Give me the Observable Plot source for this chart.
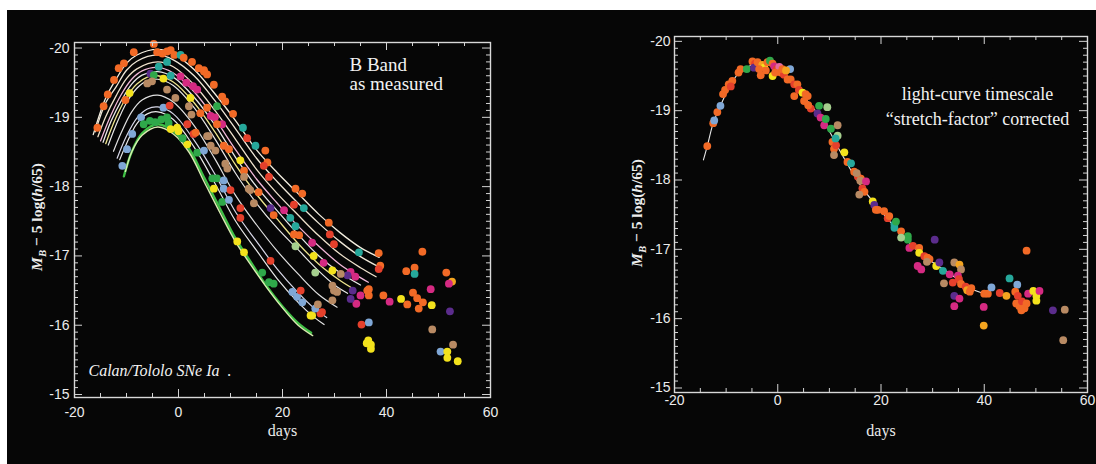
<!DOCTYPE html>
<html>
<head>
<meta charset="utf-8">
<script src="https://cdn.jsdelivr.net/npm/d3@7"></script>
<script src="https://cdn.jsdelivr.net/npm/@observablehq/plot@0.6"></script>
<style>
html,body{margin:0;padding:0;background:#fff;width:1096px;height:464px;overflow:hidden;position:relative}
#bg{position:absolute;left:7px;top:10px;width:1089px;height:454px;background:#060606}
.panel{position:absolute;top:0}
#left{left:0}
#right{left:555px}
.ylab{position:absolute;font-family:"Liberation Serif","Times New Roman",serif;font-weight:bold;font-size:15.5px;color:#ececec;white-space:nowrap;transform:translate(-50%,-50%) rotate(-90deg)}
.ylab sub{font-size:0.7em;vertical-align:-0.3em}
</style>
</head>
<body>
<div id="bg"></div>
<div id="left" class="panel"></div>
<div id="right" class="panel"></div>
<div class="ylab" style="left:38px;top:217px"><i>M<sub>B</sub></i> &minus; 5 log(<i>h</i>/65)</div>
<div class="ylab" style="left:638px;top:213px"><i>M<sub>B</sub></i> &minus; 5 log(<i>h</i>/65)</div>
<script>
// ---------- tick labels ----------
const xTickLabels = [-20, 0, 20, 40, 60];
const yTickLabels = [-20, -19, -18, -17, -16, -15];

// ---------- left panel: fitted light curves (day, magnitude) ----------
const curveA = [[-16.4,-18.75],[-14,-19.28],[-12,-19.55],[-10,-19.78],[-8,-19.9],[-4,-19.98],[-1,-19.92],[3,-19.69],[7,-19.34],[11,-18.95],[15,-18.53],[19,-18.2],[23,-17.9],[27,-17.6],[31,-17.34],[35,-17.12],[38.6,-16.98]];
const curveB = [[-16,-18.79],[-14,-19.21],[-12,-19.44],[-10,-19.68],[-8,-19.81],[-4,-19.9],[-1,-19.83],[3,-19.6],[7,-19.24],[11,-18.83],[15,-18.41],[19,-18.07],[23,-17.76],[27,-17.47],[31,-17.21],[35,-16.99],[38.6,-16.84]];
const curveC = [[-15.5,-18.72],[-14,-19.01],[-12,-19.31],[-10,-19.56],[-8,-19.7],[-4,-19.8],[-1,-19.73],[3,-19.47],[7,-19.1],[11,-18.68],[15,-18.25],[19,-17.9],[23,-17.59],[27,-17.29],[31,-17.03],[35,-16.83],[38,-16.7]];
const curveD = [[-15,-18.66],[-13,-19.03],[-11,-19.33],[-9,-19.55],[-7,-19.67],[-4,-19.72],[-1,-19.64],[3,-19.37],[7,-18.98],[11,-18.53],[15,-18.11],[19,-17.76],[23,-17.43],[27,-17.14],[31,-16.88],[34,-16.73],[36.5,-16.62]];
const curveE = [[-14.5,-18.64],[-13,-18.94],[-11,-19.24],[-9,-19.48],[-7,-19.61],[-4,-19.66],[-1,-19.58],[3,-19.29],[7,-18.89],[11,-18.42],[15,-18.0],[19,-17.65],[23,-17.31],[27,-17.0],[31,-16.76],[35,-16.58]];
const curveF = [[-14,-18.62],[-12,-19.0],[-10,-19.29],[-8,-19.48],[-6,-19.58],[-4,-19.6],[-1,-19.51],[3,-19.21],[7,-18.79],[11,-18.31],[15,-17.89],[19,-17.53],[23,-17.18],[27,-16.88],[31,-16.65],[34,-16.51]];
const curveG = [[-13.5,-18.6],[-12,-18.89],[-10,-19.21],[-8,-19.42],[-6,-19.53],[-4,-19.55],[-1,-19.46],[3,-19.14],[7,-18.69],[11,-18.19],[15,-17.76],[19,-17.4],[23,-17.09],[27,-16.78],[30,-16.58],[32.5,-16.46]];
const curveH = [[-12.5,-18.51],[-11,-18.78],[-9,-19.08],[-7,-19.25],[-4,-19.32],[-1,-19.22],[3,-18.88],[7,-18.4],[11,-17.87],[15,-17.45],[19,-17.07],[23,-16.74],[27,-16.44],[30.5,-16.26]];
const curveI = [[-11.8,-18.41],[-10,-18.73],[-8,-18.99],[-6,-19.12],[-4,-19.15],[-1,-19.05],[3,-18.67],[7,-18.18],[11,-17.63],[15,-17.21],[19,-16.81],[23,-16.47],[26,-16.25],[28.5,-16.11]];
const curveJ = [[-11.3,-18.39],[-10,-18.62],[-8,-18.91],[-6,-19.05],[-4,-19.08],[-1,-18.97],[3,-18.57],[7,-18.05],[11,-17.5],[15,-17.08],[19,-16.67],[23,-16.33],[26,-16.12],[28,-16.01]];
const curveK = [[-10.5,-18.15],[-9,-18.5],[-7,-18.77],[-4,-18.9],[-1,-18.8],[2,-18.55],[5,-18.12],[8,-17.68],[11,-17.25],[14,-16.9],[17,-16.56],[20,-16.27],[23,-16.03],[25.5,-15.89]];
const curveL = [[-10.2,-18.22],[-9,-18.5],[-7,-18.74],[-4,-18.86],[-1,-18.76],[2,-18.5],[5,-18.06],[8,-17.62],[11,-17.2],[14,-16.86],[17,-16.54],[20,-16.25],[23,-16.0],[25.8,-15.85]];

// ---------- left panel: measured points ----------
const leftPointDay = [-15.6,-14.4,-13.6,-12.4,-11.5,-10.5,-8.6,-10.2,-9.4,-8.9,-9.9,-10.8,-7.2,-2.9,
 -4.75,-4.1,-3.1,-2.2,-1.5,-0.8,0.4,1.0,2.6,3.9,4.9,5.5,-5.4,-4.75,-3.8,-2.2,-2.9,-1.5,-6,-5.1,-2.2,-0.6,2,2.5,-1.7,
 -6.7,-5.5,-4.5,-3.3,-2.2,-1.9,-1.5,0,-0.25,1.7,0.8,2.9,3.6,
 0.4,1.5,2.8,3.6,2.3,4.9,6.8,8.4,7.4,5.5,4.2,6.2,7.0,8.4,7.4,1.7,3.3,5.5,6.2,8.7,9.7,16.7,17.1,16.4,17.4,14.8,11.9,12.6,9.4,9,7.1,5.8,4.9,
 7.4,6.8,6.5,8.4,8.7,8.7,10,12.6,13.8,13.5,15.4,14.5,9.7,11.9,11.9,11.3,12.6,17.7,16.1,17.4,18.3,17.7,18.3,20.3,22.2,22.5,23.8,24.1,21.5,22.5,22.2,23.2,22.5,
 25.7,26.0,26.3,27.9,28.9,29.1,29.9,34.7,38.5,38.8,38.5,36.3,33.1,32.5,34.0,29.9,29.6,30.5,29.6,31.2,29.6,21.9,22.8,23.8,23.5,25.7,25.4,27.6,27.3,26.3,26.8,
 9.0,10.5,12.4,13.2,
 46.9,43.8,45.4,45.4,51.5,52.6,52.0,48.5,45.1,45.9,44.0,46.2,47.0,42.8,48.7,52.2,39.4,40.6,36.6,36.6,35.0,34.2,33.1,33.5,35.2,36.6,36.5,37.0,37.0,36.2,48.8,50.4,51.7,51.7,52.8,53.7];
const leftPointMag = [-18.85,-19.16,-19.33,-19.54,-19.71,-19.78,-19.94,-19.25,-19.35,-18.76,-18.54,-18.3,-19.0,-19.14,
 -20.06,-19.94,-19.92,-19.95,-19.97,-19.9,-19.9,-19.86,-19.8,-19.71,-19.68,-19.62,-19.63,-19.61,-19.73,-19.8,-19.56,-19.6,-19.49,-19.52,-19.4,-19.28,-19.16,-19.04,-19.17,
 -18.9,-18.95,-18.93,-18.97,-19.0,-18.92,-18.83,-18.8,-18.85,-18.61,-18.7,-18.76,-18.49,
 -19.59,-19.5,-19.45,-19.4,-19.28,-19.66,-19.47,-19.3,-19.16,-19.14,-19.06,-19.02,-19.0,-18.9,-18.9,-18.9,-18.78,-18.73,-18.59,-18.59,-18.54,-18.52,-18.35,-18.3,-18.14,-18.59,-18.38,-18.23,-18.26,-18.33,-18.52,-18.73,-18.52,
 -18.12,-17.97,-18.12,-17.78,-18.09,-17.97,-17.95,-18.14,-17.95,-17.97,-17.92,-17.76,-17.81,-17.69,-17.55,-17.21,-17.05,-16.93,-16.76,-16.62,-16.6,-17.69,-17.59,-17.66,-17.74,-17.97,-17.9,-17.69,-17.55,-17.43,-17.31,-17.3,-17.14,
 -17.19,-17.0,-16.76,-16.9,-17.48,-17.31,-17.17,-17.05,-17.04,-16.86,-16.81,-16.5,-16.77,-16.72,-16.7,-16.5,-16.57,-16.48,-16.36,-16.74,-16.79,-16.48,-16.41,-16.33,-16.5,-16.14,-16.14,-16.19,-16.17,-16.24,-16.3,
 -19.23,-19.05,-18.85,-18.7,
 -17.06,-16.78,-16.83,-16.74,-16.76,-16.63,-16.6,-16.52,-16.47,-16.39,-16.3,-16.24,-16.33,-16.38,-16.29,-16.2,-16.43,-16.34,-16.52,-16.43,-16.43,-16.31,-16.38,-16.5,-16.01,-16.04,-15.78,-15.72,-15.66,-15.74,-15.94,-15.62,-15.62,-15.53,-15.72,-15.48];
const leftPointColor = ["O","O","O","O","O","O","O","O","Y","B","B","B","B","B",
 "O","O","O","O","O","O","T","O","O","O","O","O","P","G","T","T","Y","T","N","N","N","N","N","N","R",
 "G","G","G","G","G","G","Y","Y","Y","Y","G","R","G",
 "M","M","M","M","Y","O","O","O","G","O","O","M","M","M","O","R","O","N","N","O","O","O","O","R","R","T","Y","O","N","N","N","N","B",
 "G","Y","G","G","B","B","R","N","N","N","O","N","B","R","R","Y","Y","R","G","G","G","P","O","M","R","O","O","T","T","T","O","O","L",
 "M","Y","L","M","O","R","R","T","O","O","R","O","M","P","M","N","N","N","N","N","Y","B","B","B","R","Y","Y","R","R","B","N",
 "O","O","T","R",
 "O","O","O","T","O","A","M","M","O","O","O","O","O","Y","Y","P","O","M","O","O","M","M","P","P","R","B","Y","Y","Y","Y","N","B","Y","Y","N","Y"];

// ---------- right panel: stretch-corrected template ----------
const templateDay = [-14.4,-13.65,-12.5,-11.1,-9.1,-7.2,-4.6,-3,0,2.5,5.1,9,12.2,15.5,19.4,22.6,25.8,29.1,33,37.5,40.5];
const templateMag = [-18.29,-18.49,-18.82,-19.07,-19.38,-19.57,-19.67,-19.68,-19.6,-19.45,-19.2,-18.83,-18.4,-17.98,-17.6,-17.33,-17.07,-16.86,-16.67,-16.43,-16.35];

// ---------- right panel: corrected points ----------
const rightPointDay = [-13.65,-12.5,-12.3,-11.7,-11.1,-10.6,-10.2,-9.5,-8.8,-9.1,-7.6,-7.2,-6.0,-4.9,-4.4,-4.6,-3.9,-3.3,-3.0,-2.6,-2.0,-1.5,-1.0,-1.0,-0.7,-0.2,0.3,0.6,1.2,1.9,2.4,2.5,3.2,3.8,3.2,4.1,4.8,5.4,5.8,5.1,6.4,5.9,
 8.0,9.6,7.7,8.3,9.0,9.3,10.3,11.6,11.6,10.6,10.9,11.3,11.2,10.9,12.9,13.5,14.2,14.8,15.5,16.1,15.3,16.0,17.1,16.4,16.8,15.8,18.4,18.7,19.0,19.4,20.6,21.3,21.6,22.6,22.6,22.9,23.9,25.2,25.2,23.9,
 25.5,26.2,27.4,27.4,28.4,29.0,29.4,28.9,30.4,27.1,27.8,30.7,31.3,32.0,33.3,34.2,35.2,35.5,34.9,35.1,33.9,32.2,35.5,36.4,36.7,37.5,37.2,34.2,35.2,34.2,
 39.9,39.9,40.0,40.7,41.4,43.0,44.3,44.9,46.4,46.0,46.5,46.2,46.8,47.3,47.8,47.2,48.2,48.2,48.5,49.5,50.1,50.1,50.7,53.3,55.6,55.3,
 -3.6,-2.3,-0.5,0.9,1.6];
const rightPointMag = [-18.49,-18.82,-18.86,-18.98,-19.07,-19.24,-19.3,-19.38,-19.43,-19.35,-19.55,-19.6,-19.6,-19.71,-19.68,-19.62,-19.7,-19.51,-19.66,-19.62,-19.7,-19.72,-19.68,-19.5,-19.64,-19.6,-19.63,-19.55,-19.52,-19.45,-19.6,-19.45,-19.38,-19.38,-19.21,-19.3,-19.26,-19.24,-19.21,-19.14,-19.03,-19.08,
 -19.07,-19.05,-18.96,-18.9,-18.79,-18.88,-18.74,-18.79,-18.64,-18.55,-18.45,-18.5,-18.6,-18.36,-18.4,-18.26,-18.24,-18.12,-18.05,-18.02,-18.1,-17.99,-17.98,-17.88,-17.83,-17.79,-17.69,-17.64,-17.57,-17.57,-17.55,-17.45,-17.48,-17.36,-17.31,-17.4,-17.26,-17.19,-17.14,-17.17,
 -17.02,-17.05,-17.02,-16.95,-16.9,-16.88,-16.86,-16.82,-17.14,-16.76,-16.71,-16.76,-16.81,-16.69,-16.64,-16.81,-16.78,-16.71,-16.62,-16.57,-16.52,-16.51,-16.5,-16.46,-16.41,-16.44,-16.39,-16.33,-16.29,-16.18,
 -16.17,-15.9,-16.36,-16.36,-16.45,-16.37,-16.33,-16.58,-16.49,-16.39,-16.33,-16.22,-16.18,-16.25,-16.15,-16.12,-16.22,-16.98,-16.36,-16.4,-16.33,-16.26,-16.4,-16.12,-16.13,-15.69,
 -19.6,-19.58,-19.55,-19.6,-19.58];
const rightPointColor = ["O","O","B","O","B","O","O","O","O","R","O","O","G","O","R","P","O","O","A","Y","O","G","O","Y","M","R","K","O","R","O","B","O","R","O","O","R","Y","O","O","O","R","O",
 "G","L","P","M","M","G","G","N","L","O","O","R","T","N","Y","O","T","O","R","O","N","N","M","R","O","N","Y","P","O","O","O","R","O","T","T","G","O","G","G","L",
 "M","R","O","Y","R","O","O","N","P","M","M","Y","P","T","M","N","A","N","M","R","R","N","O","R","A","O","O","P","M","M",
 "M","A","O","O","B","R","A","T","B","O","R","O","O","R","O","O","O","O","M","Y","Y","Y","M","P","N","N",
 "O","O","O","O","A"];

// ---------- annotations ----------
const leftTitle = "B Band\nas measured";
const leftCaption = "Calan/Tololo SNe Ia  .";
const rightTitle = "light-curve timescale\n\u201cstretch-factor\u201d corrected";
const axisTitleX = "days";

// ---------- styles ----------
const palette = {O:"#f26a26", R:"#e5402c", Y:"#f3e21c", G:"#2fa84a", T:"#26a89b", B:"#7fa7d6", M:"#d52a82", P:"#5b2c8c", N:"#b88a63", K:"#e56aa2", A:"#f4a41f", L:"#a5cf8e"};
const leftCurves = [curveA, curveB, curveC, curveD, curveE, curveF, curveG, curveH, curveI, curveJ, curveK, curveL];
const curveStroke = ["#f4efe0","#f0e8d8","#efe2cc","#f0b8d8","#e8e8e8","#eee58e","#e8e8e8","#e0e0e0","#d8d8e8","#e8e8e8","#3fbf45","#d8ecb0"];
const curveWidth = [1.3,1.3,1.3,1.3,1.3,1.3,1.2,1.2,1.2,1.2,2.4,1.4];

const serif = "'Liberation Serif','Times New Roman',serif";
const sans = "'Liberation Sans Narrow','Arial Narrow','Liberation Sans',Arial,sans-serif";
const H = 464;
const xMajor = xTickLabels;
const xMinor = d3.range(-20, 61, 5).filter(d => d % 20 !== 0);
const yAll = d3.range(0, 51).map(i => -20 + i / 10);
const yMajor = yTickLabels;
const yMinor = yAll.filter(d => Math.abs(d - Math.round(d)) > 1e-6);

function frameMarks(W, mL, mR, mT, mB) {
  const iw = W - mL - mR, ih = H - mT - mB;
  const st = {stroke: "#d4d4d4", strokeWidth: 1};
  return [
    Plot.tickX(xMinor, {x: d => d, insetTop: ih - 4, ...st}),
    Plot.tickX(xMajor, {x: d => d, insetTop: ih - 8, ...st}),
    Plot.tickX(xMinor, {x: d => d, insetBottom: ih - 4, ...st}),
    Plot.tickX(xMajor, {x: d => d, insetBottom: ih - 8, ...st}),
    Plot.tickY(yMinor, {y: d => d, insetRight: iw - 4, ...st}),
    Plot.tickY(yMajor, {y: d => d, insetRight: iw - 8, ...st}),
    Plot.tickY(yMinor, {y: d => d, insetLeft: iw - 4, ...st}),
    Plot.tickY(yMajor, {y: d => d, insetLeft: iw - 8, ...st}),
    Plot.frame({stroke: "#d8d8d8", strokeWidth: 1.4})
  ];
}

const leftPoints = leftPointDay.map((d, i) => ({day: d, mag: leftPointMag[i], c: leftPointColor[i]}));
const rightPoints = rightPointDay.map((d, i) => ({day: d, mag: rightPointMag[i], c: rightPointColor[i]}));
const template = templateDay.map((d, i) => ({day: d, mag: templateMag[i]}));

const baseStyle = {background: "transparent", color: "#ececec", fontFamily: sans, fontSize: "14px", overflow: "visible"};

// Left panel
{
  const W = 545, mL = 74, mR = 55, mT = 42, mB = 67;
  const marks = [
    ...leftCurves.map((c, k) => Plot.line(c, {x: d => d[0], y: d => d[1], curve: "catmull-rom", stroke: curveStroke[k], strokeWidth: curveWidth[k]})),
    Plot.dot(leftPoints, {x: "day", y: "mag", r: 3.9, fill: d => palette[d.c]}),
    ...frameMarks(W, mL, mR, mT, mB),
    Plot.axisX(xTickLabels, {anchor: "bottom", tickSize: 0, tickPadding: 10, tickFormat: d => String(d), label: null}),
    Plot.axisY(yTickLabels, {anchor: "left", tickSize: 0, tickPadding: 5, tickFormat: d => String(d), label: null}),
    Plot.text([axisTitleX], {frameAnchor: "bottom", dy: 33, lineAnchor: "middle", fontFamily: serif, fontSize: 16, fill: "#ececec"}),
    Plot.text([leftTitle], {frameAnchor: "top-right", textAnchor: "start", lineAnchor: "top", dx: -141, dy: 15, fontFamily: serif, fontSize: 19, lineHeight: 1, fill: "#f2f2f2"}),
    Plot.text([leftCaption], {frameAnchor: "bottom-left", textAnchor: "start", lineAnchor: "bottom", dx: 14, dy: -22, fontFamily: serif, fontStyle: "italic", fontSize: 16, fill: "#f2f2f2"})
  ];
  const p = Plot.plot({width: W, height: H, marginLeft: mL, marginRight: mR, marginTop: mT, marginBottom: mB,
    x: {domain: [-20, 60]}, y: {domain: [-14.957, -20.08]}, color: {type: "identity"}, style: baseStyle, marks});
  document.getElementById("left").append(p);
}

// Right panel
{
  const W = 541, mL = 119, mR = 9, mT = 36, mB = 72;
  const marks = [
    Plot.line(template, {x: "day", y: "mag", curve: "catmull-rom", stroke: "#e8e8e8", strokeWidth: 1.1}),
    Plot.dot(rightPoints, {x: "day", y: "mag", r: 3.9, fill: d => palette[d.c]}),
    ...frameMarks(W, mL, mR, mT, mB),
    Plot.axisX(xTickLabels, {anchor: "bottom", tickSize: 0, tickPadding: 3, tickFormat: d => String(d), label: null}),
    Plot.axisY(yTickLabels, {anchor: "left", tickSize: 0, tickPadding: 4, tickFormat: d => String(d), label: null}),
    Plot.text([axisTitleX], {frameAnchor: "bottom", dy: 38, lineAnchor: "middle", fontFamily: serif, fontSize: 16, fill: "#ececec"}),
    Plot.text([rightTitle], {frameAnchor: "top-right", textAnchor: "middle", lineAnchor: "top", dx: -110, dy: 46, fontFamily: serif, fontSize: 18, lineHeight: 1.39, fill: "#f2f2f2"})
  ];
  const p = Plot.plot({width: W, height: H, marginLeft: mL, marginRight: mR, marginTop: mT, marginBottom: mB,
    x: {domain: [-20, 60]}, y: {domain: [-14.935, -20.07]}, color: {type: "identity"}, style: baseStyle, marks});
  document.getElementById("right").append(p);
}
</script>
</body>
</html>
